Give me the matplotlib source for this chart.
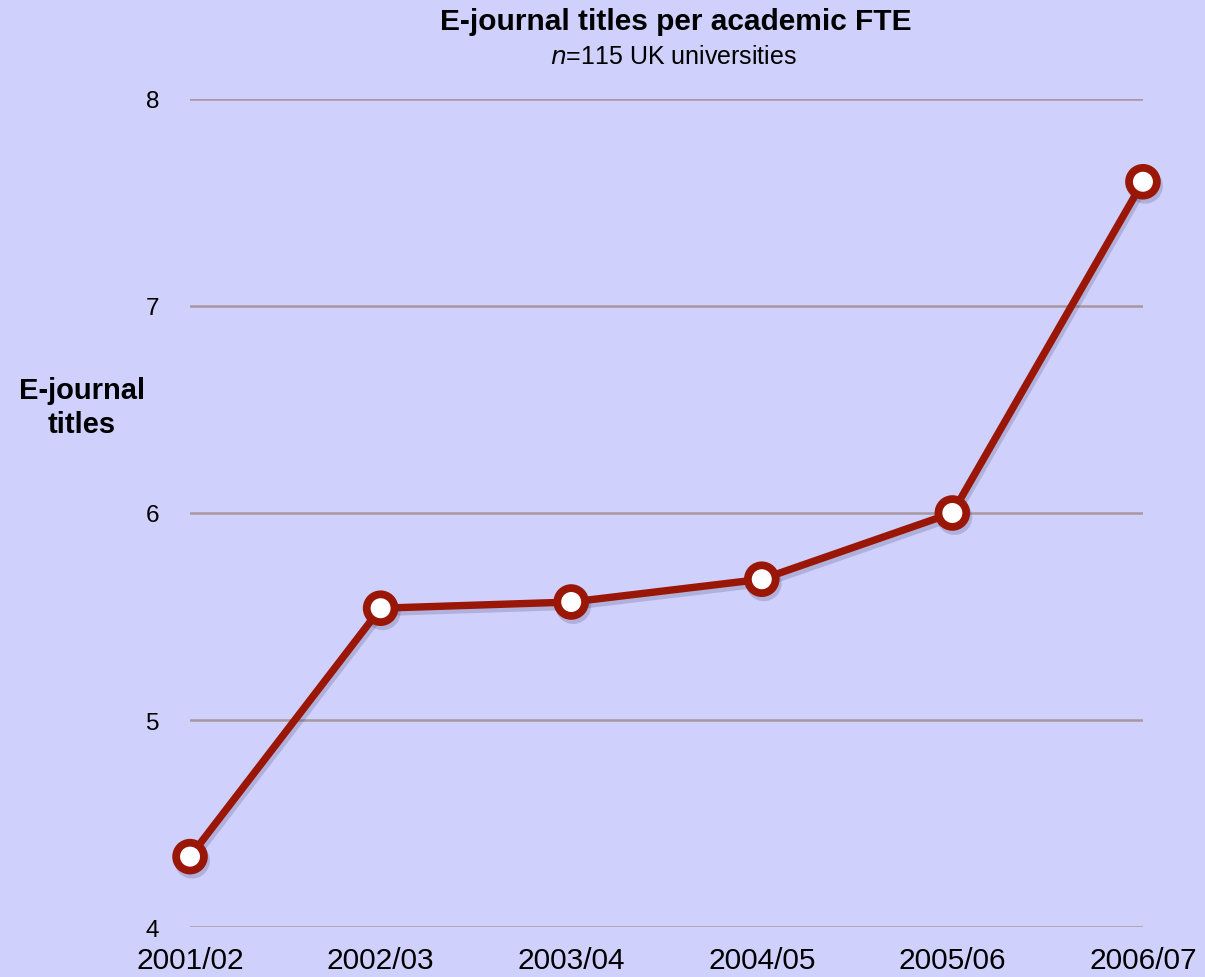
import matplotlib.pyplot as plt
import matplotlib.patheffects as pe

plt.rcParams['font.family'] = ['Liberation Sans', 'DejaVu Sans']

years = ['2001/02', '2002/03', '2003/04', '2004/05', '2005/06', '2006/07']
titles_per_fte = [4.34, 5.54, 5.57, 5.68, 6.00, 7.60]
y_ticks = [4, 5, 6, 7, 8]

bg = '#D0D0FC'
red = '#9A1606'
grid = '#A8979F'

fig = plt.figure(figsize=(12.05, 9.78), dpi=100, facecolor=bg)
ax = fig.add_axes([0.1577, 0.0511, 0.7908, 0.8467])
ax.set_facecolor(bg)

for v in y_ticks:
    ax.axhline(v, color=grid, lw=1.8, zorder=1)

x = list(range(len(years)))
ax.plot(x, titles_per_fte, color=red, lw=5.3, marker='o', ms=20,
        mfc='white', mec=red, mew=5.6, zorder=3, clip_on=False,
        path_effects=[pe.SimpleLineShadow(offset=(1.5, -3), alpha=0.2, shadow_color='#303060'),
                      pe.Normal()])

ax.set_xlim(0, len(years) - 1)
ax.set_ylim(4, 8)
ax.set_xticks(x)
ax.set_xticklabels(years, fontsize=21.5)
ax.set_yticks(y_ticks)
ax.set_yticklabels([str(v) for v in y_ticks], fontsize=17.5)
ax.tick_params(axis='x', length=0, pad=14)
ax.tick_params(axis='y', length=0, pad=22)
for s in ax.spines.values():
    s.set_visible(False)

fig.text(0.5605, 0.977, 'E-journal titles per academic FTE', ha='center', va='center',
         fontsize=21.5, fontweight='bold')
fig.text(0.5585, 0.942, '$n$=115 UK universities', ha='center', va='center', fontsize=18)
fig.text(0.068, 0.583, 'E-journal\ntitles', ha='center', va='center', fontsize=21,
         fontweight='bold', linespacing=1.25)

fig.savefig('out.png', dpi=100, facecolor=bg)
